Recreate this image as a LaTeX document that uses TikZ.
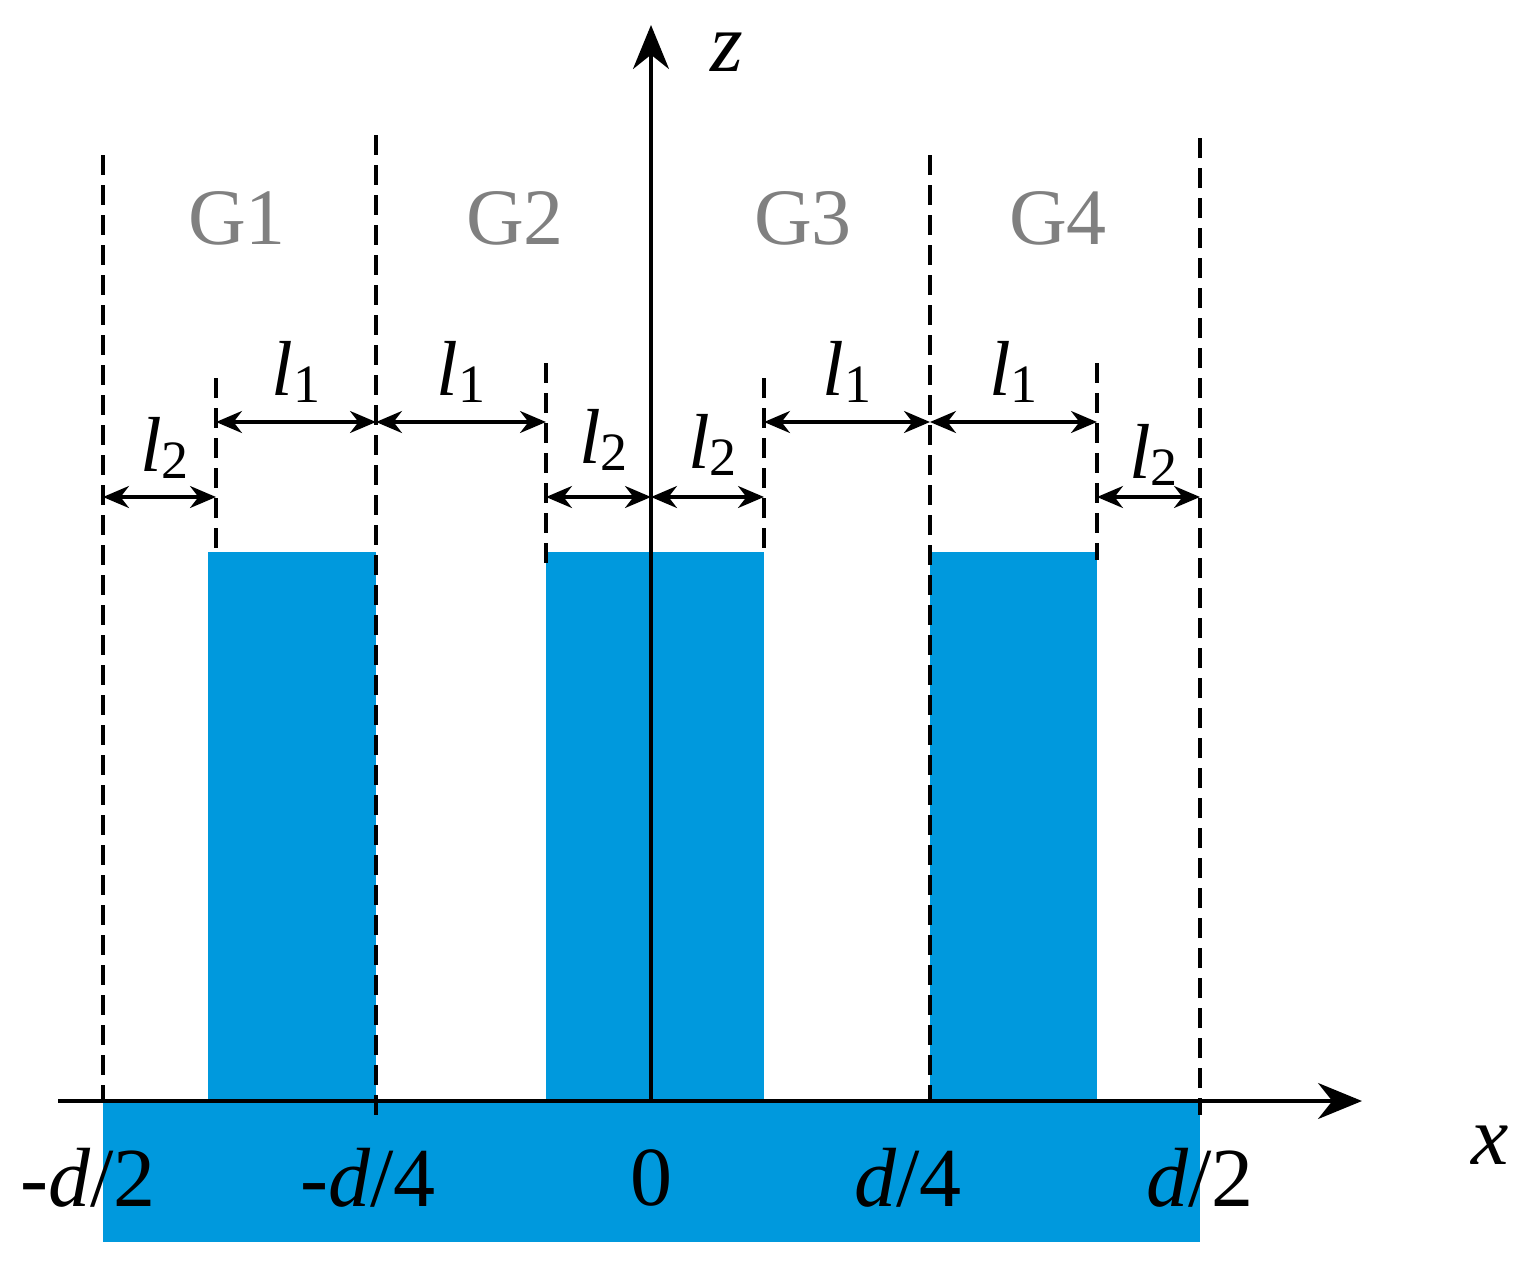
\documentclass[tikz,border=0pt]{standalone}
\usepackage{fontspec}
\setmainfont{Liberation Serif}
\usetikzlibrary{arrows.meta}
\definecolor{sub}{HTML}{0099DD}
\newcommand{\lsub}[1]{{\itshape l}\raisebox{-0.2ex}{\fontsize{27}{27}\selectfont #1}}
\newcommand{\dd}{{\itshape d}}
\begin{document}
\begin{tikzpicture}[x=0.5pt,y=-0.5pt,
 dsh/.style={line width=1.6pt,dash pattern=on 10pt off 5pt},
 dim/.style={line width=1.6pt,{Stealth[length=13pt,width=11pt]}-{Stealth[length=13pt,width=11pt]}},
 lab/.style={font=\fontsize{42}{46}\selectfont},
 llab/.style={font=\fontsize{39}{42}\selectfont},
 glab/.style={font=\fontsize{40}{44}\selectfont,text=gray}]
\useasboundingbox (0,0) rectangle (1533,1271);
\fill[sub] (103,1100) rectangle (1200,1242);
\fill[sub] (208,552) rectangle (376,1100);
\fill[sub] (546,552) rectangle (764,1100);
\fill[sub] (930,552) rectangle (1097,1100);
\coordinate (xs) at (58,1101); \coordinate (xe) at (1362,1101);
\coordinate (zs) at (651,1101); \coordinate (ze) at (651,25);
\draw[line width=1.7pt,-{Stealth[length=22pt,width=18pt]}] (xs)--(xe);
\draw[line width=1.7pt,-{Stealth[length=22pt,width=18pt]}] (zs)--(ze);
\draw[dsh] (103,155)--(103,1100);
\draw[dsh] (376,135)--(376,1115);
\draw[dsh] (216,378)--(216,552);
\draw[dsh] (546,363)--(546,572);
\draw[dsh] (764,378)--(764,552);
\draw[dsh] (930,155)--(930,1100);
\draw[dsh] (1097,363)--(1097,560);
\draw[dsh] (1200,138)--(1200,1115);
\foreach \a/\b in {216/376,376/546,764/930,930/1097}
  {\coordinate (p\a) at (\a,422); \coordinate (q\a) at (\b,422); \draw[dim] (p\a)--(q\a);
   \node[llab] at ({(\a+\b)/2+(0)},372) {\lsub{1}};}
\foreach \a/\b/\y in {103/216/448,546/651/440,651/764/445,1097/1200/455}
  {\coordinate (r\a) at (\a,497); \coordinate (s\a) at (\b,497); \draw[dim] (r\a)--(s\a);
   \node[llab] at ({(\a+\b)/2+5},\y) {\lsub{2}};}
\node[glab] (g1) at (237,218) {G1};
\node[glab] (g2) at (515,218) {G2};
\node[glab] (g3) at (803,218) {G3};
\node[glab] (g4) at (1058,218) {G4};
\node[lab] (t1) at (88,1178) {-\dd/2};
\node[lab] (t2) at (368,1178) {-\dd/4};
\node[lab] (t3) at (651,1178) {0};
\node[lab] (t4) at (908,1178) {\dd/4};
\node[lab] (t5) at (1200,1178) {\dd/2};
\node[lab] (xl) at (1490,1145) {\itshape x};
\node[lab] (zl) at (727,52) {\itshape z};
\end{tikzpicture}
\end{document}
